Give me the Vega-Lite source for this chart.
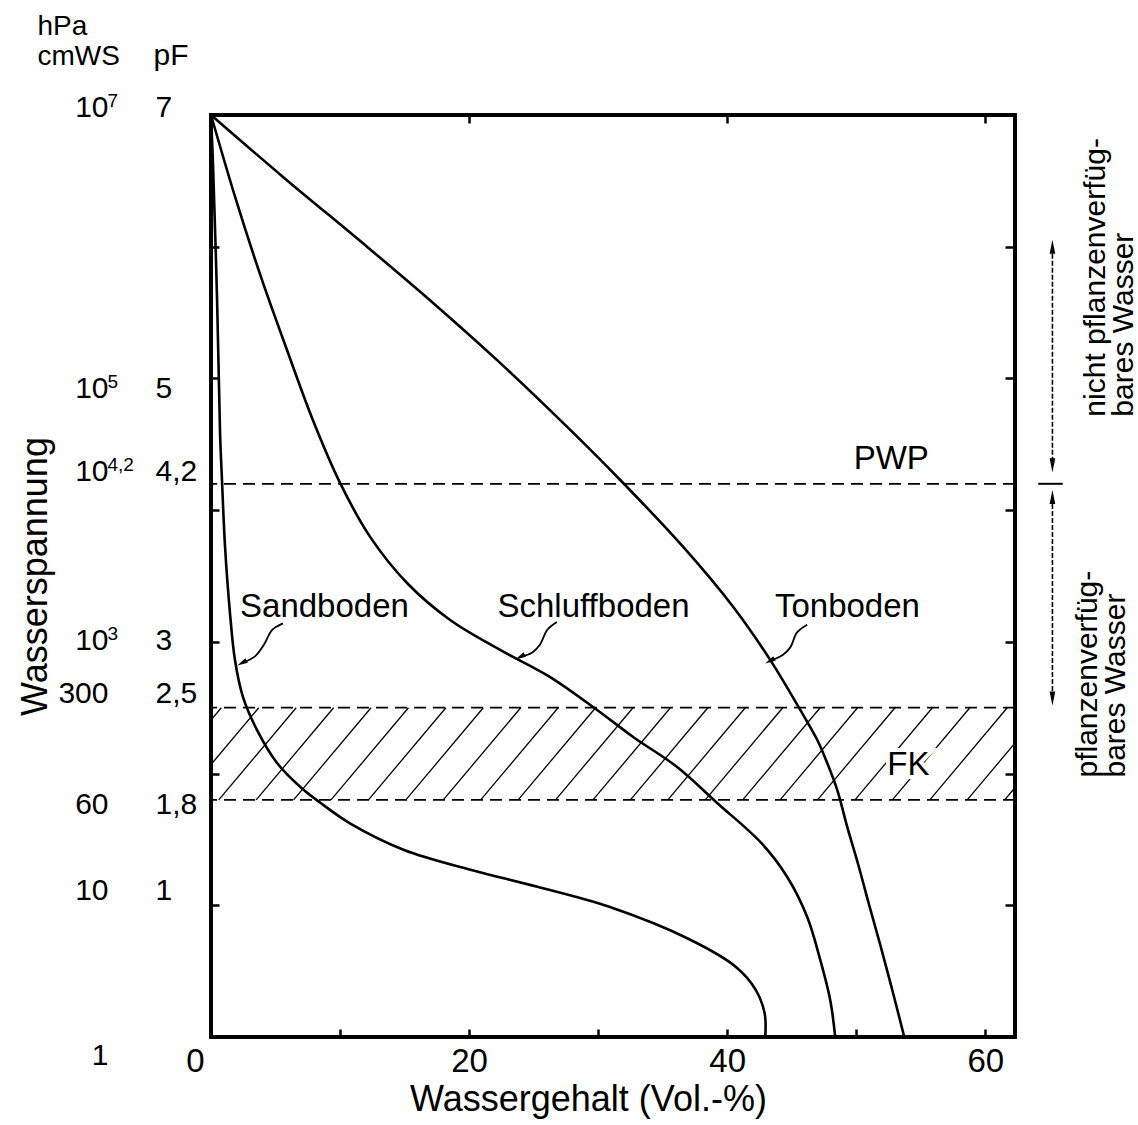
{
  "$schema": "https://vega.github.io/schema/vega-lite/v6.json",
  "width": 804,
  "height": 922,
  "autosize": {"type": "none"},
  "padding": {"left": 211, "top": 115, "right": 123, "bottom": 88},
  "background": "white",
  "config": {
    "view": {"stroke": "black", "strokeWidth": 4},
    "font": "Liberation Sans",
    "axis": {
      "domain": false,
      "grid": false,
      "labelColor": "black",
      "titleColor": "black",
      "tickColor": "black",
      "labelFont": "Liberation Sans",
      "titleFont": "Liberation Sans",
      "titleFontWeight": "normal"
    }
  },
  "datasets": {
    "curves": [
      {"soil": "Sandboden", "w": 0, "pF": 7},
      {"soil": "Sandboden", "w": 0.16, "pF": 6.61},
      {"soil": "Sandboden", "w": 0.47, "pF": 5.6},
      {"soil": "Sandboden", "w": 0.7, "pF": 4.59},
      {"soil": "Sandboden", "w": 0.85, "pF": 4.23},
      {"soil": "Sandboden", "w": 1.09, "pF": 3.72},
      {"soil": "Sandboden", "w": 1.47, "pF": 3.22},
      {"soil": "Sandboden", "w": 1.86, "pF": 2.86},
      {"soil": "Sandboden", "w": 2.48, "pF": 2.58},
      {"soil": "Sandboden", "w": 3.57, "pF": 2.33},
      {"soil": "Sandboden", "w": 5.12, "pF": 2.08},
      {"soil": "Sandboden", "w": 6.9, "pF": 1.9},
      {"soil": "Sandboden", "w": 8.45, "pF": 1.78},
      {"soil": "Sandboden", "w": 10.8, "pF": 1.62},
      {"soil": "Sandboden", "w": 14.96, "pF": 1.42},
      {"soil": "Sandboden", "w": 20.1, "pF": 1.27},
      {"soil": "Sandboden", "w": 25.3, "pF": 1.14},
      {"soil": "Sandboden", "w": 30.8, "pF": 0.99},
      {"soil": "Sandboden", "w": 37.1, "pF": 0.74},
      {"soil": "Sandboden", "w": 40.7, "pF": 0.53},
      {"soil": "Sandboden", "w": 42.2, "pF": 0.36},
      {"soil": "Sandboden", "w": 42.9, "pF": 0.18},
      {"soil": "Sandboden", "w": 42.95, "pF": 0},
      {"soil": "Schluffboden", "w": 0, "pF": 7},
      {"soil": "Schluffboden", "w": 1.94, "pF": 6.355},
      {"soil": "Schluffboden", "w": 3.95, "pF": 5.748},
      {"soil": "Schluffboden", "w": 5.89, "pF": 5.216},
      {"soil": "Schluffboden", "w": 7.83, "pF": 4.7},
      {"soil": "Schluffboden", "w": 10.0, "pF": 4.207},
      {"soil": "Schluffboden", "w": 12.33, "pF": 3.797},
      {"soil": "Schluffboden", "w": 15.19, "pF": 3.447},
      {"soil": "Schluffboden", "w": 18.53, "pF": 3.166},
      {"soil": "Schluffboden", "w": 22.4, "pF": 2.939},
      {"soil": "Schluffboden", "w": 26.28, "pF": 2.733},
      {"soil": "Schluffboden", "w": 29.92, "pF": 2.483},
      {"soil": "Schluffboden", "w": 32.71, "pF": 2.278},
      {"soil": "Schluffboden", "w": 36.12, "pF": 2.05},
      {"soil": "Schluffboden", "w": 39.22, "pF": 1.777},
      {"soil": "Schluffboden", "w": 42.64, "pF": 1.473},
      {"soil": "Schluffboden", "w": 44.65, "pF": 1.215},
      {"soil": "Schluffboden", "w": 46.2, "pF": 0.911},
      {"soil": "Schluffboden", "w": 47.21, "pF": 0.585},
      {"soil": "Schluffboden", "w": 47.98, "pF": 0.281},
      {"soil": "Schluffboden", "w": 48.37, "pF": 0},
      {"soil": "Tonboden", "w": 0, "pF": 7},
      {"soil": "Tonboden", "w": 5.58, "pF": 6.53},
      {"soil": "Tonboden", "w": 12.09, "pF": 6.0},
      {"soil": "Tonboden", "w": 17.21, "pF": 5.573},
      {"soil": "Tonboden", "w": 22.4, "pF": 5.118},
      {"soil": "Tonboden", "w": 27.6, "pF": 4.632},
      {"soil": "Tonboden", "w": 31.71, "pF": 4.229},
      {"soil": "Tonboden", "w": 36.59, "pF": 3.721},
      {"soil": "Tonboden", "w": 40.47, "pF": 3.265},
      {"soil": "Tonboden", "w": 43.33, "pF": 2.863},
      {"soil": "Tonboden", "w": 45.66, "pF": 2.483},
      {"soil": "Tonboden", "w": 46.98, "pF": 2.255},
      {"soil": "Tonboden", "w": 47.75, "pF": 2.08},
      {"soil": "Tonboden", "w": 48.53, "pF": 1.875},
      {"soil": "Tonboden", "w": 49.3, "pF": 1.595},
      {"soil": "Tonboden", "w": 50.16, "pF": 1.306},
      {"soil": "Tonboden", "w": 51.0, "pF": 1.002},
      {"soil": "Tonboden", "w": 51.86, "pF": 0.699},
      {"soil": "Tonboden", "w": 52.79, "pF": 0.357},
      {"soil": "Tonboden", "w": 53.72, "pF": 0}
    ],
    "hatch": [
      {"b": -5.2, "t": 0.8}, {"b": -2.3, "t": 3.7}, {"b": 0.6, "t": 6.6},
      {"b": 3.5, "t": 9.5}, {"b": 6.4, "t": 12.4}, {"b": 9.3, "t": 15.3},
      {"b": 12.2, "t": 18.2}, {"b": 15.1, "t": 21.1}, {"b": 18.0, "t": 24.0},
      {"b": 20.9, "t": 26.9}, {"b": 23.8, "t": 29.8}, {"b": 26.7, "t": 32.7},
      {"b": 29.6, "t": 35.6}, {"b": 32.5, "t": 38.5}, {"b": 35.4, "t": 41.4},
      {"b": 38.3, "t": 44.3}, {"b": 41.2, "t": 47.2}, {"b": 44.1, "t": 50.1},
      {"b": 47.0, "t": 53.0}, {"b": 49.9, "t": 55.9}, {"b": 52.8, "t": 58.8},
      {"b": 55.7, "t": 61.7}, {"b": 58.6, "t": 64.6}, {"b": 61.5, "t": 67.5}
    ],
    "levels": [{"name": "PWP", "pF": 4.2}, {"name": "FK oben", "pF": 2.5}, {"name": "FK unten", "pF": 1.8}],
    "pointers": [
      {"soil": "Sandboden", "i": 0, "w": 5.58, "pF": 3.14},
      {"soil": "Sandboden", "i": 1, "w": 4.73, "pF": 3.09},
      {"soil": "Sandboden", "i": 2, "w": 4.11, "pF": 2.98},
      {"soil": "Sandboden", "i": 3, "w": 3.41, "pF": 2.89},
      {"soil": "Sandboden", "i": 4, "w": 2.4, "pF": 2.84},
      {"soil": "Schluffboden", "i": 0, "w": 26.8, "pF": 3.15},
      {"soil": "Schluffboden", "i": 1, "w": 26.05, "pF": 3.09},
      {"soil": "Schluffboden", "i": 2, "w": 25.5, "pF": 2.98},
      {"soil": "Schluffboden", "i": 3, "w": 24.9, "pF": 2.92},
      {"soil": "Schluffboden", "i": 4, "w": 23.95, "pF": 2.885},
      {"soil": "Tonboden", "i": 0, "w": 46.2, "pF": 3.13},
      {"soil": "Tonboden", "i": 1, "w": 45.4, "pF": 3.07},
      {"soil": "Tonboden", "i": 2, "w": 44.9, "pF": 2.96},
      {"soil": "Tonboden", "i": 3, "w": 44.3, "pF": 2.9},
      {"soil": "Tonboden", "i": 4, "w": 43.3, "pF": 2.855}
    ],
    "labels": [
      {"label": "Sandboden", "w": 2.25, "pF": 3.19},
      {"label": "Schluffboden", "w": 22.2, "pF": 3.19},
      {"label": "Tonboden", "w": 43.7, "pF": 3.19},
      {"label": "PWP", "w": 49.8, "pF": 4.31},
      {"label": "FK", "w": 52.4, "pF": 1.99}
    ],
    "zones": [
      {"zone": "nicht pflanzenverfügbar", "top": 6.0, "bottom": 4.34},
      {"zone": "pflanzenverfügbar", "top": 4.1, "bottom": 2.57}
    ],
    "sidetext": [
      {"txt": ["nicht pflanzenverfüg-", "bares Wasser"], "w": 67.4, "pF": 4.71},
      {"txt": ["pflanzenverfüg-", "bares Wasser"], "w": 66.8, "pF": 1.97}
    ]
  },
  "resolve": {"axis": {"x": "independent", "y": "independent"}},
  "layer": [
    {
      "data": {"name": "hatch"},
      "mark": {"type": "rule", "clip": true, "strokeWidth": 1.3, "color": "black"},
      "encoding": {
        "x": {
          "field": "b", "type": "quantitative",
          "scale": {"domain": [0, 62.3], "nice": false, "zero": false},
          "axis": {
            "orient": "bottom",
            "values": [0, 10, 20, 30, 40, 50, 60],
            "labelExpr": "datum.value % 20 == 0 ? format(datum.value, 'd') : ''",
            "labelFlush": false,
            "labelOffset": {"condition": {"test": "datum.value == 0", "value": -16}, "value": 0},
            "tickSize": -8, "tickWidth": 2.5,
            "labelFontSize": 33, "labelPadding": 16,
            "title": "Wassergehalt (Vol.-%)", "titleFontSize": 36,
            "titleX": 377, "titleY": 73, "titleBaseline": "alphabetic", "titleAlign": "center"
          }
        },
        "x2": {"field": "t"},
        "y": {
          "datum": 1.8, "type": "quantitative",
          "scale": {"domain": [0, 7], "nice": false, "zero": false},
          "axis": {
            "orient": "left",
            "values": [7, 5, 4.2, 3, 2.5, 1.8, 1],
            "labelExpr": "replace(format(datum.value, '~g'), '.', ',')",
            "ticks": false, "labelAlign": "left", "labelBaseline": "middle",
            "labelPadding": 56, "labelFontSize": 30,
            "labelOffset": {"condition": [
              {"test": "datum.value == 7", "value": -8},
              {"test": "datum.value == 5", "value": 10},
              {"test": "datum.value == 4.2", "value": -12},
              {"test": "datum.value == 2.5", "value": -14},
              {"test": "datum.value == 1.8", "value": 5},
              {"test": "datum.value == 1", "value": -15}
            ], "value": -1},
            "title": "pF", "titleFontSize": 30, "titleAngle": 0, "titleAlign": "left",
            "titleBaseline": "alphabetic", "titleX": -58, "titleY": -51
          }
        },
        "y2": {"datum": 2.5}
      }
    },
    {
      "data": {"name": "levels"},
      "mark": {"type": "rule", "strokeDash": [12, 7], "strokeWidth": 1.8, "color": "black"},
      "encoding": {
        "y": {
          "field": "pF", "type": "quantitative",
          "scale": {"domain": [0, 7], "nice": false, "zero": false},
          "axis": {
            "orient": "left",
            "values": [7, 5, 4.2, 3, 2.5, 1.8, 1, 0],
            "labelExpr": "datum.value == 2.5 ? '300' : datum.value == 1.8 ? '60' : datum.value == 0 ? '1' : '10'",
            "ticks": false, "labelAlign": "right", "labelBaseline": "middle",
            "labelPadding": 103, "labelFontSize": 30,
            "labelOffset": {"condition": [
              {"test": "datum.value == 7", "value": -8},
              {"test": "datum.value == 5", "value": 10},
              {"test": "datum.value == 4.2", "value": -12},
              {"test": "datum.value == 2.5", "value": -14},
              {"test": "datum.value == 1.8", "value": 5},
              {"test": "datum.value == 1", "value": -15},
              {"test": "datum.value == 0", "value": 18}
            ], "value": -1},
            "title": ["hPa", "cmWS"], "titleFontSize": 28, "titleAngle": 0, "titleAlign": "left",
            "titleBaseline": "alphabetic", "titleLineHeight": 30, "titleX": -174, "titleY": -81
          }
        }
      }
    },
    {
      "data": {"name": "curves"},
      "mark": {"type": "line", "interpolate": "catmull-rom", "strokeWidth": 2.6, "color": "black"},
      "encoding": {
        "x": {
          "field": "w", "type": "quantitative",
          "scale": {"domain": [0, 62.3], "nice": false, "zero": false},
          "axis": {"orient": "top", "values": [20, 40, 60], "tickSize": -8, "tickWidth": 2.5, "labels": false, "title": null}
        },
        "y": {
          "field": "pF", "type": "quantitative",
          "scale": {"domain": [0, 7], "nice": false, "zero": false},
          "axis": {
            "orient": "left",
            "values": [7, 5, 4.2, 3],
            "labelExpr": "datum.value == 4.2 ? '4,2' : format(datum.value, 'd')",
            "ticks": false, "labelAlign": "left", "labelBaseline": "middle",
            "labelPadding": 104, "labelFontSize": 19,
            "labelOffset": {"condition": [
              {"test": "datum.value == 7", "value": -15},
              {"test": "datum.value == 5", "value": 3},
              {"test": "datum.value == 4.2", "value": -19}
            ], "value": -8},
            "title": null
          }
        },
        "detail": {"field": "soil"}
      }
    },
    {
      "data": {"name": "pointers"},
      "mark": {"type": "line", "interpolate": "catmull-rom", "strokeWidth": 1.8, "color": "black"},
      "encoding": {
        "x": {"field": "w", "type": "quantitative", "scale": {"domain": [0, 62.3], "nice": false, "zero": false}, "axis": null},
        "y": {
          "field": "pF", "type": "quantitative",
          "scale": {"domain": [0, 7], "nice": false, "zero": false},
          "axis": {
            "orient": "left", "values": [1, 2, 3, 4, 5, 6], "tickSize": -8, "tickWidth": 2.5, "labels": false,
            "title": "Wasserspannung", "titleFontSize": 36, "titleAngle": -90, "titleAlign": "center",
            "titleBaseline": "middle", "titleX": -176, "titleY": 461
          }
        },
        "detail": {"field": "soil"},
        "order": {"field": "i", "type": "quantitative"}
      }
    },
    {
      "data": {"name": "pointers"},
      "transform": [{"filter": "datum.i == 4"}],
      "mark": {"type": "point", "shape": "M-1,0L1,-0.5L1,0.5Z", "filled": true, "size": 110, "angle": 332, "color": "black", "opacity": 1},
      "encoding": {
        "x": {"field": "w", "type": "quantitative", "scale": {"domain": [0, 62.3], "nice": false, "zero": false}, "axis": null},
        "y": {
          "field": "pF", "type": "quantitative",
          "scale": {"domain": [0, 7], "nice": false, "zero": false},
          "axis": {"orient": "right", "values": [1, 2, 3, 4, 5, 6], "tickSize": -10, "tickWidth": 2.5, "labels": false, "title": null}
        }
      }
    },
    {
      "data": {"name": "labels"},
      "mark": {"type": "text", "align": "left", "baseline": "alphabetic", "fontSize": 33, "font": "Liberation Sans", "stroke": "white", "strokeWidth": 8, "fill": "white"},
      "encoding": {
        "x": {"field": "w", "type": "quantitative", "scale": {"domain": [0, 62.3], "nice": false, "zero": false}, "axis": null},
        "y": {"field": "pF", "type": "quantitative", "scale": {"domain": [0, 7], "nice": false, "zero": false}, "axis": null},
        "text": {"field": "label"}
      }
    },
    {
      "data": {"name": "labels"},
      "mark": {"type": "text", "align": "left", "baseline": "alphabetic", "fontSize": 33, "font": "Liberation Sans", "color": "black"},
      "encoding": {
        "x": {"field": "w", "type": "quantitative", "scale": {"domain": [0, 62.3], "nice": false, "zero": false}, "axis": null},
        "y": {"field": "pF", "type": "quantitative", "scale": {"domain": [0, 7], "nice": false, "zero": false}, "axis": null},
        "text": {"field": "label"}
      }
    },
    {
      "data": {"name": "zones"},
      "mark": {"type": "rule", "strokeWidth": 1.6, "strokeDash": [5, 2], "color": "black"},
      "encoding": {
        "x": {"datum": 65.2, "type": "quantitative", "scale": {"domain": [0, 62.3], "nice": false, "zero": false}, "axis": null},
        "y": {"field": "top", "type": "quantitative", "scale": {"domain": [0, 7], "nice": false, "zero": false}, "axis": null},
        "y2": {"field": "bottom"}
      }
    },
    {
      "data": {"name": "zones"},
      "mark": {"type": "point", "shape": "M0,-1L0.4,1L-0.4,1Z", "filled": true, "size": 200, "color": "black", "opacity": 1},
      "encoding": {
        "x": {"datum": 65.2, "type": "quantitative", "scale": {"domain": [0, 62.3], "nice": false, "zero": false}, "axis": null},
        "y": {"field": "top", "type": "quantitative", "scale": {"domain": [0, 7], "nice": false, "zero": false}, "axis": null}
      }
    },
    {
      "data": {"name": "zones"},
      "mark": {"type": "point", "shape": "M0,1L0.4,-1L-0.4,-1Z", "filled": true, "size": 200, "color": "black", "opacity": 1},
      "encoding": {
        "x": {"datum": 65.2, "type": "quantitative", "scale": {"domain": [0, 62.3], "nice": false, "zero": false}, "axis": null},
        "y": {"field": "bottom", "type": "quantitative", "scale": {"domain": [0, 7], "nice": false, "zero": false}, "axis": null}
      }
    },
    {
      "data": {"values": [{"name": "PWP", "pF": 4.2}]},
      "mark": {"type": "rule", "strokeWidth": 2, "color": "black"},
      "encoding": {
        "x": {"datum": 64.1, "type": "quantitative", "scale": {"domain": [0, 62.3], "nice": false, "zero": false}, "axis": null},
        "x2": {"datum": 66.0},
        "y": {"field": "pF", "type": "quantitative", "scale": {"domain": [0, 7], "nice": false, "zero": false}, "axis": null}
      }
    },
    {
      "data": {"name": "sidetext"},
      "mark": {"type": "text", "angle": 270, "align": "left", "baseline": "top", "fontSize": 30, "lineHeight": 28, "font": "Liberation Sans", "color": "black"},
      "encoding": {
        "x": {"field": "w", "type": "quantitative", "scale": {"domain": [0, 62.3], "nice": false, "zero": false}, "axis": null},
        "y": {"field": "pF", "type": "quantitative", "scale": {"domain": [0, 7], "nice": false, "zero": false}, "axis": null},
        "text": {"field": "txt"}
      }
    }
  ]
}
